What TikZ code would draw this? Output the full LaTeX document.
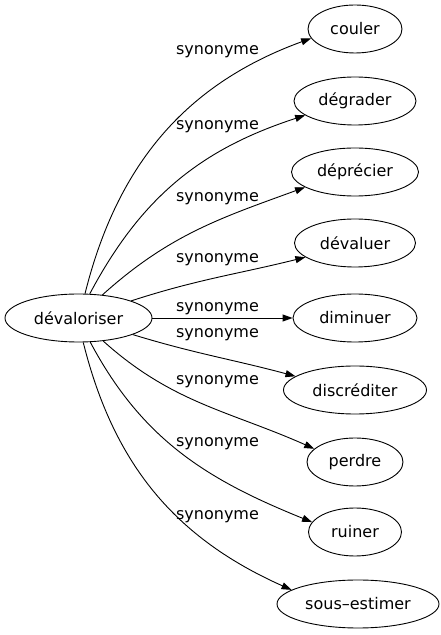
\documentclass[tikz,border=0pt]{standalone}
\usepackage{fontspec}
\setmainfont{DejaVu Sans}
\usetikzlibrary{shapes.geometric,arrows.meta}

\begin{document}
\begin{tikzpicture}[x=1pt,y=1pt,
  word/.style={draw,ellipse,line width=.9pt,inner sep=0pt,minimum height=48pt,font=\fontsize{16}{19}\selectfont},
  syn/.style={inner sep=0pt,font=\fontsize{16}{19}\selectfont},
  rel/.style={line width=.9pt,-{Triangle[length=10pt,width=7pt]}}]
\path[use as bounding box] (0,0) rectangle (441,635);
\node[word,minimum width=147pt] (devaloriser) at (78.5,317) {dévaloriser};
\node[word,minimum width=94pt] (couler) at (355,606) {couler};
\node[word,minimum width=122pt] (degrader) at (355,534) {dégrader};
\node[word,minimum width=127pt] (deprecier) at (355,463) {déprécier};
\node[word,minimum width=121pt] (devaluer) at (355,392) {dévaluer};
\node[word,minimum width=124pt] (diminuer) at (355,317) {diminuer};
\node[word,minimum width=143pt] (discrediter) at (355,245) {discréditer};
\node[word,minimum width=96pt] (perdre) at (355,173) {perdre};
\node[word,minimum width=93pt] (ruiner) at (355,103) {ruiner};
\node[word,minimum width=162pt] (sousestimer) at (358,31) {sous–estimer};
\draw[rel] (devaloriser.75) to[out=76,in=200] (couler.192);
\draw[rel] (devaloriser.65) to[out=62,in=198] (degrader.196);
\draw[rel] (devaloriser.44) to[out=42,in=200] (deprecier.197);
\draw[rel] (devaloriser.18) to[out=18,in=194] (devaluer.196);
\draw[rel] (devaloriser) -- (diminuer);
\draw[rel] (devaloriser.-17) to[out=-17,in=165] (discrediter.167);
\draw[rel] (devaloriser.-43) to[out=-42,in=156] (perdre.162);
\draw[rel] (devaloriser.-64) to[out=-62,in=158] (ruiner.167);
\draw[rel] (devaloriser.-79) to[out=-76,in=156] (sousestimer.168);
\node[syn] (l1) at (217.5,583) {synonyme};
\node[syn] (l2) at (217.5,508) {synonyme};
\node[syn] (l3) at (217.5,436) {synonyme};
\node[syn] (l4) at (217.5,375) {synonyme};
\node[syn] (l5) at (217.5,326.5) {synonyme};
\node[syn] (l6) at (217.5,300) {synonyme};
\node[syn] (l7) at (217.5,253) {synonyme};
\node[syn] (l8) at (217.5,191) {synonyme};
\node[syn] (l9) at (217.5,118) {synonyme};
\end{tikzpicture}
\end{document}
